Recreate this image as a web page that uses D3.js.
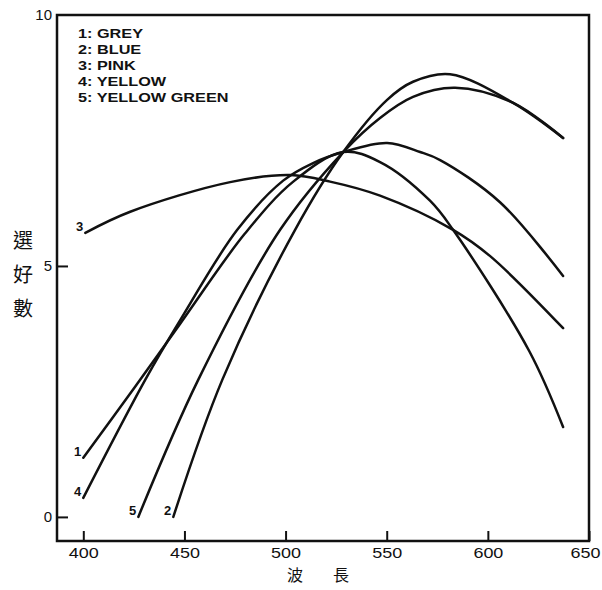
<!DOCTYPE html>
<html>
<head>
<meta charset="utf-8">
<script src="https://cdnjs.cloudflare.com/ajax/libs/d3/7.8.5/d3.min.js"></script>
<style>
  body { margin: 0; background: #fff; }
  .tick text { font-family: "Liberation Sans", Arial, sans-serif; font-size: 15px; fill: #111; }
  .tick line { stroke: #111; stroke-width: 2; }
  .cjk { font-family: "Noto Sans CJK TC", "Noto Sans CJK JP", sans-serif; fill: #111; }
  .legend, .clabel { font-family: "Liberation Sans", Arial, sans-serif; font-weight: bold; fill: #111; }
</style>
</head>
<body>
<div id="chart"></div>
<script>
// values (x = wavelength nm, y = preference count)
var seriesIds = ["1", "2", "3", "4", "5"];
var legendLabels = ["1: GREY", "2: BLUE", "3: PINK", "4: YELLOW", "5: YELLOW GREEN"];

var greyX = [400, 425.7, 447.9, 480, 503.8, 528.5, 546.7, 571.4, 582.8, 620.5, 637.2];
var greyY = [1.18, 2.6, 3.85, 5.65, 6.68, 7.27, 7.07, 6.3, 5.72, 3.3, 1.79];

var blueX = [444.5, 468.7, 504.7, 528.5, 550.2, 563, 581.3, 612.5, 637.2];
var blueY = [0, 2.73, 5.72, 7.27, 8.31, 8.67, 8.82, 8.25, 7.55];

var pinkX = [401, 423.2, 472.6, 502.3, 522, 546.7, 582.8, 601, 637.2];
var pinkY = [5.66, 6.08, 6.67, 6.81, 6.68, 6.4, 5.72, 5.2, 3.76];

var yellowX = [400, 430.6, 447.9, 476.1, 498.8, 513.6, 528.5, 550.2, 566.5, 576.4, 606, 637.2];
var yellowY = [0.38, 2.73, 3.92, 5.72, 6.7, 7.05, 7.27, 7.45, 7.27, 7.11, 6.27, 4.8];

var ygX = [427.2, 456.8, 497.3, 528.5, 546.7, 563, 583.8, 612.5, 637.2];
var ygY = [0, 2.73, 5.72, 7.27, 7.95, 8.37, 8.55, 8.25, 7.55];

var xTicks = [400, 450, 500, 550, 600, 650];
var yTicks = [0, 5, 10];
var yTitle = ["選", "好", "數"];
var xTitle = ["波", "長"];

var wd = 602;
var ht = 590;
var margin = { top: 15, right: 13, bottom: 49, left: 57 };

var svg = d3.select("#chart").append("svg").attr("width", wd).attr("height", ht);

var xScale = d3.scaleLinear().domain([387, 650]).range([margin.left, wd - margin.right]);
var yScale = d3.scaleLinear().domain([-0.48, 10]).range([ht - margin.bottom, margin.top]);

var series = [
  { id: seriesIds[0], xs: greyX, ys: greyY },
  { id: seriesIds[1], xs: blueX, ys: blueY },
  { id: seriesIds[2], xs: pinkX, ys: pinkY },
  { id: seriesIds[3], xs: yellowX, ys: yellowY },
  { id: seriesIds[4], xs: ygX, ys: ygY }
];
series.forEach(function(s) {
  s.points = s.xs.map(function(x, i) { return [x, s.ys[i]]; });
});

var xAxis = d3.axisBottom(xScale).tickValues(xTicks).tickSize(-10).tickPadding(6);
var yAxis = d3.axisLeft(yScale).tickValues(yTicks).tickSize(-11).tickPadding(5);

var gx = svg.append("g").attr("class", "axis x")
  .attr("transform", "translate(0," + (ht - margin.bottom) + ")").call(xAxis);
gx.select(".domain").remove();
gx.selectAll(".tick text").attr("textLength", 30).attr("lengthAdjust", "spacingAndGlyphs");
gx.selectAll(".tick").filter(function(d) { return d == 650; }).select("text").attr("dx", -4);

var gy = svg.append("g").attr("class", "axis y")
  .attr("transform", "translate(" + margin.left + ",0)").call(yAxis);
gy.select(".domain").remove();
gy.selectAll(".tick").filter(function(d) { return d == 10; }).select("line").remove();

// frame
svg.append("rect")
  .attr("x", margin.left).attr("y", margin.top)
  .attr("width", wd - margin.left - margin.right)
  .attr("height", ht - margin.top - margin.bottom)
  .attr("fill", "none").attr("stroke", "#111").attr("stroke-width", 2.5);

var line = d3.line()
  .x(function(d) { return xScale(d[0]); })
  .y(function(d) { return yScale(d[1]); })
  .curve(d3.curveCatmullRom.alpha(0.5));

svg.selectAll("path.curve").data(series).enter()
  .append("path")
  .attr("class", "curve")
  .attr("d", function(d) { return line(d.points); })
  .attr("fill", "none")
  .attr("stroke", "#111")
  .attr("stroke-width", 2.5)
  .attr("stroke-linecap", "round");

// number at the start of each curve
svg.selectAll("text.clabel").data(series).enter()
  .append("text")
  .attr("class", "clabel")
  .attr("text-anchor", "end")
  .style("font-size", "13px")
  .attr("x", function(d) { return xScale(d.points[0][0]) - 2; })
  .attr("y", function(d) { return yScale(d.points[0][1]) - 2; })
  .text(function(d) { return d.id; });

// legend
var leg = svg.selectAll("text.legend").data(legendLabels).enter()
  .append("text")
  .attr("class", "legend")
  .style("font-size", "12.5px")
  .attr("x", 78)
  .attr("y", function(d, i) { return 37.5 + i * 16.2; })
  .text(function(d) { return d; });
leg.each(function() {
  var len = this.getComputedTextLength();
  d3.select(this).attr("textLength", len * 1.3).attr("lengthAdjust", "spacingAndGlyphs");
});

// axis titles
svg.selectAll("text.ytitle").data(yTitle).enter()
  .append("text")
  .attr("class", "cjk ytitle")
  .attr("text-anchor", "middle")
  .style("font-size", "20px")
  .attr("x", 23)
  .attr("y", function(d, i) { return 248 + i * 34; })
  .text(function(d) { return d; });

svg.selectAll("text.xtitle").data(xTitle).enter()
  .append("text")
  .attr("class", "cjk xtitle")
  .attr("text-anchor", "middle")
  .style("font-size", "16px")
  .attr("x", function(d, i) { return 295 + i * 46; })
  .attr("y", 581)
  .text(function(d) { return d; });
</script>
</body>
</html>
